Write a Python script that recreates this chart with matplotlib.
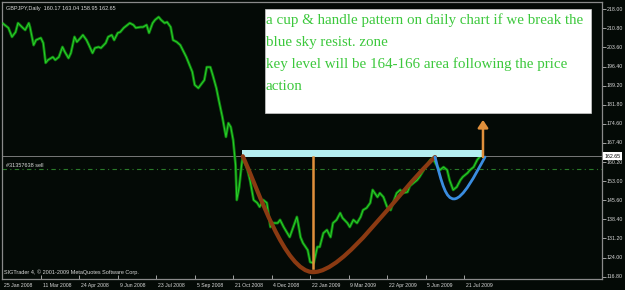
import matplotlib
matplotlib.use("Agg")
import matplotlib.pyplot as plt
from matplotlib.path import Path
from matplotlib.patches import PathPatch, Rectangle

# ---------------- data ----------------
bar_idx = [0, 2, 5, 8, 11, 13, 17, 19, 22, 23, 26, 28, 32, 34, 36, 38, 42, 44, 47, 50,
           52, 55, 57, 60, 62, 65, 67, 70, 72, 75, 77, 80, 82, 86, 88, 91, 93, 96, 98, 101,
           104, 106, 109, 111, 115, 117, 120, 122, 125, 127, 130, 132, 135, 137, 140, 142, 145, 148, 150, 153,
           155, 158, 160, 163, 165, 168, 170, 173, 175, 178, 180, 183, 185, 186, 188, 190, 192, 194, 195, 197,
           199, 200, 204, 206, 209, 212, 214, 217, 220, 223, 225, 229, 231, 234, 237, 239, 242, 245, 246, 248,
           250, 254, 256, 259, 262, 264, 267, 270, 273, 275, 278, 281, 283, 287, 289, 292, 295, 298, 300, 303,
           306, 308, 312, 314, 317, 320, 323, 325, 328, 331, 333, 337, 339, 342, 345, 347, 352, 356, 358, 362,
           364, 367, 370, 372, 375, 378, 381, 383, 387, 389, 392, 395, 397, 399]
close = [212.8, 212.1, 211.0, 207.6, 209.4, 212.8, 211.0, 210.2, 212.8, 211.3, 204.5, 206.4, 207.2, 205.3, 197.8, 198.9, 200.0, 198.9, 200.0, 203.8,
         201.9, 199.6, 201.5, 207.6, 205.7, 207.2, 208.3, 206.4, 204.5, 201.5, 203.4, 203.8, 203.4, 205.3, 207.6, 208.3, 206.4, 209.1, 209.4, 211.0,
         212.1, 212.8, 212.1, 211.0, 211.3, 211.3, 212.1, 209.1, 212.8, 214.0, 215.1, 214.0, 212.8, 213.2, 211.3, 206.4, 205.7, 204.5, 202.7, 200.0,
         197.8, 194.4, 189.5, 188.3, 189.5, 191.3, 196.2, 196.2, 193.2, 188.3, 183.8, 177.4, 172.5, 169.9, 175.1, 173.6, 168.7, 159.3, 146.1, 151.0,
         159.3, 162.3, 157.4, 153.6, 146.1, 145.0, 143.5, 146.1, 145.0, 135.9, 137.4, 137.4, 138.6, 135.9, 133.6, 132.1, 135.9, 139.7, 137.4, 132.1,
         129.9, 127.2, 122.7, 122.3, 128.4, 128.4, 133.6, 134.8, 132.1, 137.4, 138.6, 141.2, 139.3, 137.4, 135.9, 138.6, 137.4, 139.7, 142.3, 143.1,
         145.0, 149.9, 147.2, 148.7, 147.2, 143.5, 142.3, 145.0, 148.7, 149.9, 148.7, 149.1, 151.4, 152.5, 153.6, 154.8, 158.5, 161.2, 161.9, 158.5,
         157.4, 158.5, 157.4, 153.6, 149.9, 151.0, 153.6, 154.8, 156.3, 157.4, 158.5, 161.2, 162.3, 163.0]

date_labels = ["25 Jan 2008", "11 Mar 2008", "24 Apr 2008", "9 Jun 2008", "23 Jul 2008",
               "5 Sep 2008", "21 Oct 2008", "4 Dec 2008", "22 Jan 2009", "9 Mar 2009",
               "22 Apr 2009", "5 Jun 2009", "21 Jul 2009"]
date_ticks = [0, 32, 64, 96, 128, 160, 192, 224, 256, 288, 320, 352, 384]

price_ticks = [218.0, 210.8, 203.6, 196.4, 189.2, 182.0, 174.8, 167.6, 160.4,
               153.2, 146.0, 138.8, 131.6, 124.4, 117.2]
price_tick_labels = ["218.00", "210.80", "203.60", "196.40", "189.20", "181.80", "174.60",
                     "167.40", "160.20", "153.00", "145.60", "138.40", "131.20", "124.00", "116.80"]

last_price = 162.65
order_price = 157.7
zone_low, zone_high = 162.4, 164.9
zone_start, zone_end = 199, 401

cup_left = [(200, 162.6), (212.8, 149.9), (235.2, 118.9), (258.5, 118.9)]
cup_right = [(258.5, 118.9), (285.1, 118.9), (326.7, 148.0), (359.9, 162.3)]
handle_left = [(359.9, 162.3), (365.8, 151.7), (369.1, 146.5), (375.7, 146.5)]
handle_right = [(375.7, 146.5), (383.2, 146.5), (393.2, 155.5), (401.5, 162.3)]
cup_bottom_idx, cup_bottom_low = 258.5, 120.4
arrow_idx, arrow_from, arrow_to = 399.8, 162.3, 176.3

header = "GBPJPY,Daily  160.17 163.04 158.95 162.65"
order_label = "#31357638 sell"
footer = "SIGTrader 4, \u00a9 2001-2009 MetaQuotes Software Corp."
note_lines = ["a cup & handle pattern on daily chart if we break the",
              "blue sky resist. zone",
              "key level will be 164-166 area following the price",
              "action"]

# ---------------- figure ----------------
W, H = 625, 290
bg = "#040a06"
fig = plt.figure(figsize=(W / 100, H / 100), dpi=100, facecolor=bg)
ax = fig.add_axes([2 / W, 11 / H, 600 / W, 277 / H], facecolor=bg)
ax.set_xlim(-0.3, 498.8)
ax.set_ylim(116.3, 220.75)

for s in ax.spines.values():
    s.set_color("#8a8a8a")
    s.set_linewidth(0.9)

# price
ax.plot(bar_idx, close, color="#0f800f", lw=2.0, zorder=2)
ax.plot(bar_idx, close, color="#2ad02a", lw=0.7, zorder=3)

# price line and order line
ax.axhline(last_price, color="#8a8a8a", lw=0.6, zorder=1)
ax.axhline(order_price, color="#2a7a2a", lw=0.8, ls=(0, (4, 3, 1, 3)), zorder=1)

# resistance zone
ax.add_patch(Rectangle((zone_start, zone_low), zone_end - zone_start, zone_high - zone_low,
                       facecolor="#b4eef0", edgecolor="none", zorder=5))

def bez(pts_a, pts_b, color, lw):
    verts = list(pts_a) + list(pts_b[1:])
    codes = [Path.MOVETO] + [Path.CURVE4] * 6
    ax.add_patch(PathPatch(Path(verts, codes), facecolor="none", edgecolor=color,
                           lw=lw, zorder=6, capstyle="round"))

bez(cup_left, cup_right, "#8b3a12", 3.0)
bez(handle_left, handle_right, "#3a8de0", 2.0)

ax.plot([cup_bottom_idx, cup_bottom_idx], [cup_bottom_low, zone_low], color="#e0903c", lw=1.8, zorder=7)
ax.annotate("", xy=(arrow_idx, arrow_to), xytext=(arrow_idx, arrow_from),
            arrowprops=dict(arrowstyle="-|>,head_length=0.45,head_width=0.3", color="#e0903c",
                            lw=1.8, shrinkA=0, shrinkB=0), zorder=7)

# note box
ax.add_patch(Rectangle((0.438, 0.599), 0.544, 0.375, transform=ax.transAxes,
                       facecolor="white", edgecolor="#cccccc", lw=0.5, zorder=8))
for i, line in enumerate(note_lines):
    ax.text(0.4395, 0.934 - i * 0.0795, line, transform=ax.transAxes, ha="left", va="center",
            fontsize=10.8, family="Liberation Serif", color="#3cc83c", zorder=9)

# axis ticks
ax.set_xticks(date_ticks)
ax.set_xticklabels([])
ax.tick_params(axis="x", direction="in", length=3, color="#bbbbbb", width=0.6)
ax.set_yticks(price_ticks)
ax.set_yticklabels([])
ax.yaxis.tick_right()
ax.tick_params(axis="y", direction="out", length=3, color="#bbbbbb", width=0.6)

tcol = "#d8d8d8"
for t, lab in zip(date_ticks, date_labels):
    ax.text(t + 1.5, -0.022, lab, transform=ax.get_xaxis_transform(), ha="left", va="center",
            fontsize=3.7, family="Liberation Sans", color=tcol)
for p, lab in zip(price_ticks, price_tick_labels):
    ax.text(1.008, p, lab, transform=ax.get_yaxis_transform(), ha="left", va="center",
            fontsize=3.8, family="Liberation Sans", color=tcol, clip_on=False)

ax.text(1.004, last_price, "162.65", transform=ax.get_yaxis_transform(), ha="left", va="center",
        fontsize=3.8, family="Liberation Sans", color="black", zorder=10,
        bbox=dict(boxstyle="square,pad=0.25", facecolor="white", edgecolor="none"))

ax.text(0.006, 0.985, header, transform=ax.transAxes, ha="left", va="top",
        fontsize=4.0, family="Liberation Sans", color=tcol)
ax.text(0.006, order_price + 1.3, order_label, transform=ax.get_yaxis_transform(), ha="left",
        va="center", fontsize=4.0, family="Liberation Sans", color=tcol)
ax.text(0.003, 0.015, footer, transform=ax.transAxes, ha="left", va="bottom",
        fontsize=4.0, family="Liberation Sans", color=tcol)

fig.savefig("out.png", dpi=100, facecolor=bg)
